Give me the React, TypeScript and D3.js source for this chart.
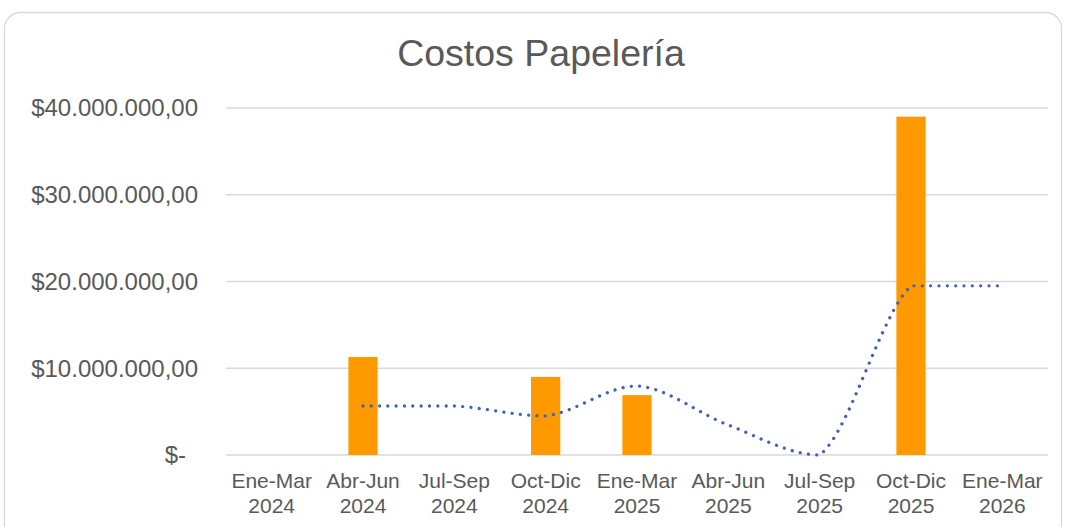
import React from "react";
import * as d3 from "d3";

const categories = [
  ["Ene-Mar", "2024"],
  ["Abr-Jun", "2024"],
  ["Jul-Sep", "2024"],
  ["Oct-Dic", "2024"],
  ["Ene-Mar", "2025"],
  ["Abr-Jun", "2025"],
  ["Jul-Sep", "2025"],
  ["Oct-Dic", "2025"],
  ["Ene-Mar", "2026"],
];
const costs = [0, 11300000, 0, 9000000, 6900000, 0, 0, 39000000, 0];
const trend: (number | null)[] = [null, 5650000, 5650000, 4500000, 7950000, 3450000, 0, 19500000, 19500000];
const yTicks = [0, 10000000, 20000000, 30000000, 40000000];
const yTickLabels = ["$-", "$10.000.000,00", "$20.000.000,00", "$30.000.000,00", "$40.000.000,00"];
const title = "Costos Papelería";

const W = 1067;
const H = 527;
const plotLeft = 226;
const plotRight = 1048;
const plotTop = 108;
const plotBottom = 455;
const font = "'Liberation Sans', Arial, sans-serif";

function smoothPath(pts: [number, number][], k = 1 / 6) {
  const path = d3.path();
  if (!pts.length) return "";
  path.moveTo(pts[0][0], pts[0][1]);
  const clamp = (v: number, a: number, b: number) => Math.max(Math.min(a, b), Math.min(Math.max(a, b), v));
  for (let i = 0; i < pts.length - 1; i++) {
    const p0 = pts[Math.max(0, i - 1)];
    const p1 = pts[i];
    const p2 = pts[i + 1];
    const p3 = pts[Math.min(pts.length - 1, i + 2)];
    const c1x = p1[0] + (p2[0] - p0[0]) * k;
    const c1y = clamp(p1[1] + (p2[1] - p0[1]) * k, p1[1], p2[1]);
    const c2x = p2[0] - (p3[0] - p1[0]) * k;
    const c2y = clamp(p2[1] - (p3[1] - p1[1]) * k, p1[1], p2[1]);
    path.bezierCurveTo(c1x, c1y, c2x, c2y, p2[0], p2[1]);
  }
  return path.toString();
}

export default function App() {
  const x = d3
    .scaleBand<number>()
    .domain(categories.map((_, i) => i))
    .range([plotLeft, plotRight])
    .paddingInner(0.68)
    .paddingOuter(0.34);
  const cx = (i: number) => (x(i) as number) + x.bandwidth() / 2;
  const y = d3.scaleLinear().domain([0, 40000000]).range([plotBottom, plotTop]);

  const trendPts = trend
    .map((v, i) => (v === null ? null : ([cx(i), y(v)] as [number, number])))
    .filter((p) => p !== null) as [number, number][];

  return (
    <svg
      width={W}
      height={H}
      style={{ position: "absolute", left: 0, top: 0 }}
      fontFamily={font}
    >
      <rect x={0} y={0} width={W} height={H} fill="#ffffff" />
      <rect
        x={4.5}
        y={12.5}
        width={1057}
        height={540}
        rx={16}
        ry={16}
        fill="#ffffff"
        stroke="#D9D9D9"
        strokeWidth={1.3}
      />
      <text x={541} y={66} textAnchor="middle" fontSize={37.5} fill="#595959">
        {title}
      </text>
      {yTicks.map((t, i) => (
        <g key={t}>
          <line
            x1={plotLeft}
            x2={plotRight}
            y1={y(t)}
            y2={y(t)}
            stroke="#D9D9D9"
            strokeWidth={1.5}
          />
          <text
            x={t === 0 ? 186 : 198}
            y={y(t)}
            dy="0.35em"
            textAnchor="end"
            fontSize={24}
            fill="#595959"
          >
            {yTickLabels[i]}
          </text>
        </g>
      ))}
      {costs.map((v, i) =>
        v > 0 ? (
          <rect
            key={i}
            x={x(i)}
            y={y(v)}
            width={x.bandwidth()}
            height={y(0) - y(v)}
            fill="#FF9900"
          />
        ) : null
      )}
      <path
        d={smoothPath(trendPts)}
        fill="none"
        stroke="#4363B2"
        strokeWidth={3.3}
        strokeLinecap="round"
        strokeDasharray="0.01 8.3"
      />
      {categories.map((c, i) => (
        <text key={i} x={cx(i)} textAnchor="middle" fontSize={21} fill="#595959">
          <tspan x={cx(i)} y={488}>
            {c[0]}
          </tspan>
          <tspan x={cx(i)} y={513}>
            {c[1]}
          </tspan>
        </text>
      ))}
    </svg>
  );
}
